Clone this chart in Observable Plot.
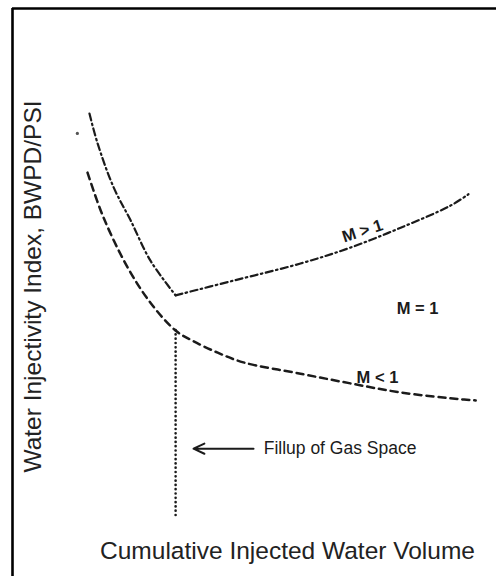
<!DOCTYPE html>
<html>
<head>
<meta charset="utf-8">
<script src="https://cdn.jsdelivr.net/npm/d3@7"></script>
<script src="https://cdn.jsdelivr.net/npm/@observablehq/plot@0.6"></script>
<style>
  html, body { margin: 0; padding: 0; background: #fff; }
  #chart svg { display: block; }
</style>
</head>
<body>
<div id="chart"></div>
<script>
// Abstract units: x = cumulative injected water volume, y = injectivity index
const mGt1X = [15.9, 17.6, 20.9, 24.4, 28.5, 33.7, 45.7, 59.5, 69.8, 80.2, 90.5, 94.2];
const mGt1Y = [81.5, 76.2, 68.5, 62.7, 55.6, 49.5, 52.1, 55.1, 57.9, 61.4, 65.3, 67.3];
const mGt1Branch = ["fall","fall","fall","fall","fall","fall","rise","rise","rise","rise","rise","rise"];

const mLt1X = [15.5, 18.8, 23.8, 28.5, 33.7, 37.2, 42.4, 47.7, 59.5, 69.8, 80.2, 92.6, 95.7];
const mLt1Y = [71.1, 63.2, 54.4, 48.2, 43.3, 41.5, 39.4, 37.7, 35.7, 34.0, 32.4, 31.2, 31.0];

const fillupX = 33.7;          // gas-space fill-up volume
const fillupYRange = [43.3, 10.4];
const strayDot = {x: 13.4, y: 78.0};

const labels = [
  {text: "M > 1", x: 72.3, y: 60.8, rotate: -18},
  {text: "M = 1", x: 83.7, y: 47.2, rotate: 0},
  {text: "M < 1", x: 75.4, y: 35.0, rotate: 0}
];
const arrowNote = {x1: 49.8, x2: 37.4, y: 22.5, text: "Fillup of Gas Space", tx: 51.9};

const xTitle = "Cumulative Injected Water Volume";
const yTitle = "Water Injectivity Index, BWPD/PSI";

// tables built from the arrays
const mGt1 = mGt1X.map((x, i) => ({x, y: mGt1Y[i], branch: mGt1Branch[i]}));
// share the corner point with the rising branch
const cornerIdx = mGt1Branch.lastIndexOf("fall");
mGt1.push({x: mGt1X[cornerIdx], y: mGt1Y[cornerIdx], branch: "rise"});
mGt1.sort((a, b) => (a.branch === b.branch ? a.x - b.x : a.branch < b.branch ? -1 : 1));
const mLt1 = mLt1X.map((x, i) => ({x, y: mLt1Y[i]}));

const ink = "#1b1b1b";
const font = "'Liberation Sans', Arial, Helvetica, sans-serif";

const chart = Plot.plot({
  width: 496,
  height: 576,
  marginLeft: 12,
  marginTop: 8,
  marginRight: 0,
  marginBottom: 0,
  x: {domain: [0, 100], axis: null},
  y: {domain: [0, 100], axis: null},
  style: {fontFamily: font, background: "#fff"},
  marks: [
    Plot.ruleX([0], {stroke: "#000", strokeWidth: 2.6}),
    Plot.ruleY([100], {stroke: "#000", strokeWidth: 2.6}),
    // M > 1 (dash-dot)
    Plot.line(mGt1, {x: "x", y: "y", z: "branch", curve: "catmull-rom",
      stroke: ink, strokeWidth: 2.2, strokeDasharray: "7,3.5,1.5,3.5", strokeLinecap: "round"}),
    // M < 1 (dashed)
    Plot.line(mLt1, {x: "x", y: "y", curve: "catmull-rom",
      stroke: ink, strokeWidth: 2.5, strokeDasharray: "7,5"}),
    // vertical dotted line at fill-up
    Plot.ruleX([fillupX], {y1: fillupYRange[0], y2: fillupYRange[1],
      stroke: ink, strokeWidth: 2.6, strokeDasharray: "0.1,4.2", strokeLinecap: "round"}),
    Plot.dot([strayDot], {x: "x", y: "y", r: 1.6, fill: "#555"}),
    // arrow + note
    Plot.arrow([arrowNote], {x1: "x1", y1: "y", x2: "x2", y2: "y",
      stroke: ink, strokeWidth: 2, headLength: 9, headAngle: 50}),
    Plot.text([arrowNote], {x: "tx", y: "y", text: "text", textAnchor: "start",
      fontSize: 17.5, fill: ink, fontFamily: font}),
    // curve labels
    Plot.text(labels, {x: "x", y: "y", text: "text", rotate: "rotate",
      fontSize: 16.5, fontWeight: "bold", fill: ink, fontFamily: font}),
    // axis titles
    Plot.text([yTitle], {frameAnchor: "left", dx: 21, dy: -6, rotate: -90, textAnchor: "middle",
      fontSize: 24.5, fill: "#222", fontFamily: font}),
    Plot.text([xTitle], {frameAnchor: "bottom", dx: 33, dy: -18, textAnchor: "middle",
      fontSize: 24.5, fill: "#222", fontFamily: font})
  ]
});
document.getElementById("chart").appendChild(chart);
</script>
</body>
</html>
